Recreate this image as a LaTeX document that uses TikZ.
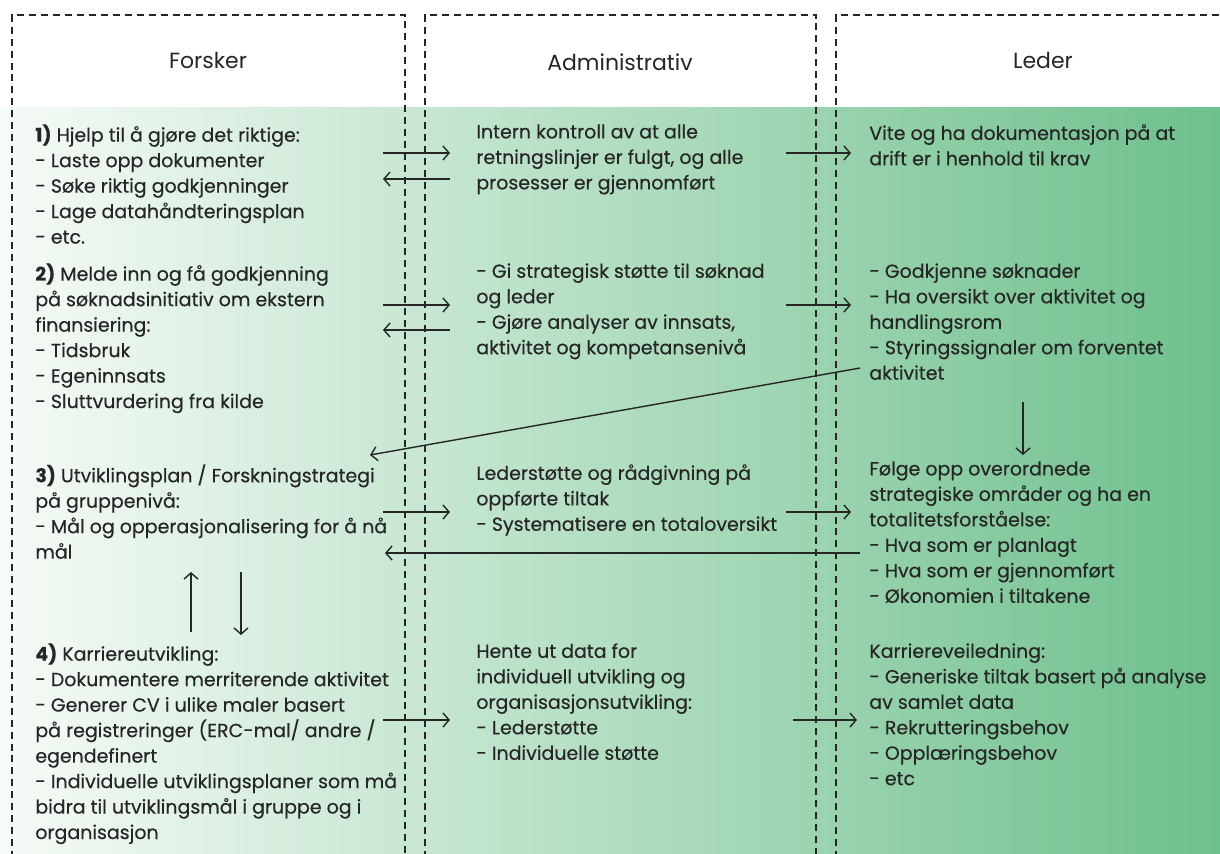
\documentclass[tikz,border=0pt]{standalone}
\usepackage{fontspec}
\setmainfont{Poppins}
\newfontfamily\bodyfont{Poppins}[FakeBold=0.3]
\usetikzlibrary{arrows.meta}
\definecolor{ink}{HTML}{262626}
\definecolor{paleg}{HTML}{F6FBF7}
\definecolor{deepg}{HTML}{6EC08C}
\begin{document}
\begin{tikzpicture}[x=0.02cm, y=-0.02cm,
  lane/.style={draw=ink, line width=0.9pt, dash pattern=on 4pt off 2.8pt},
  head/.style={font=\fontsize{12.5}{15}\selectfont, text=ink},
  txt/.style={anchor=north west, align=left, inner sep=0pt, text=ink,
    font=\bodyfont\fontsize{10.8}{14.5}\selectfont},
  arr/.style={draw=ink, line width=0.8pt, -{Straight Barb[length=3.5pt,width=8pt]}}]
\useasboundingbox (0,0) rectangle (1220,853);
\shade[left color=paleg, right color=deepg] (0,107) rectangle (1220,853);

% lanes
\draw[lane] (12,870) -- (12,15) -- (405,15) -- (405,870);
\draw[lane] (425,870) -- (425,15) -- (816,15) -- (816,870);
\draw[lane] (836,870) -- (836,15) -- (1240,15);

\node[head] (forsker) at (208,60) {Forsker};
\node[head] (admin) at (620,62) {Administrativ};
\node[head] (leder) at (1043,60) {Leder};

% Forsker
\node[txt] (f1) at (35,124) {\textbf{1)} Hjelp til å gjøre det riktige:\\- Laste opp dokumenter\\- Søke riktig godkjenninger\\- Lage datahåndteringsplan\\- etc.};
\node[txt] (f2) at (35,263) {\textbf{2)} Melde inn og få godkjenning\\på søknadsinitiativ om ekstern\\finansiering:\\- Tidsbruk\\- Egeninnsats\\- Sluttvurdering fra kilde};
\node[txt] (f3) at (35,464) {\textbf{3)} Utviklingsplan / Forskningstrategi\\på gruppenivå:\\- Mål og opperasjonalisering for å nå\\mål};
\node[txt] (f4) at (35,643) {\textbf{4)} Karriereutvikling:\\- Dokumentere merriterende aktivitet\\- Generer CV i ulike maler basert\\på registreringer (ERC-mal/ andre /\\egendefinert\\- Individuelle utviklingsplaner som må\\bidra til utviklingsmål i gruppe og i\\organisasjon};

% Administrativ
\node[txt] (a1) at (476,124) {Intern kontroll av at alle\\retningslinjer er fulgt, og alle\\prosesser er gjennomført};
\node[txt] (a2) at (476,263) {- Gi strategisk støtte til søknad\\og leder\\- Gjøre analyser av innsats,\\aktivitet og kompetansenivå};
\node[txt] (a3) at (476,464) {Lederstøtte og rådgivning på\\oppførte tiltak\\- Systematisere en totaloversikt};
\node[txt] (a4) at (476,643) {Hente ut data for\\individuell utvikling og\\organisasjonsutvikling:\\- Lederstøtte\\- Individuelle støtte};

% Leder
\node[txt] (l1) at (869,124) {Vite og ha dokumentasjon på at\\drift er i henhold til krav};
\node[txt] (l2) at (869,263) {- Godkjenne søknader\\- Ha oversikt over aktivitet og\\handlingsrom\\- Styringssignaler om forventet\\aktivitet};
\node[txt] (l3) at (869,461) {Følge opp overordnede\\strategiske områder og ha en\\totalitetsforståelse:\\- Hva som er planlagt\\- Hva som er gjennomført\\- Økonomien i tiltakene};
\node[txt] (l4) at (869,643) {Karriereveiledning:\\- Generiske tiltak basert på analyse\\av samlet data\\- Rekrutteringsbehov\\- Opplæringsbehov\\- etc};

% lanes of the arrows
\coordinate (fo) at (383,0);
\coordinate (ai) at (450,0);
\coordinate (ao) at (786,0);
\coordinate (li) at (851,0);
\coordinate (r1) at (0,153);
\coordinate (r1b) at (0,179);
\coordinate (r2) at (0,305);
\coordinate (r2b) at (0,330);
\coordinate (r3) at (0,512);
\coordinate (r3b) at (0,553);
\coordinate (r4) at (0,720);

\draw[arr] (r1 -| fo) -- (r1 -| ai);
\draw[arr] (r1b -| ai) -- (r1b -| fo);
\draw[arr] (r1 -| ao) -- (r1 -| li);
\draw[arr] (r2 -| fo) -- (r2 -| ai);
\draw[arr] (r2b -| ai) -- (r2b -| fo);
\draw[arr] (r2 -| ao) -- (r2 -| li);
\draw[arr] (r3 -| fo) -- (r3 -| ai);
\draw[arr] (r3 -| ao) -- (r3 -| li);
\draw[arr] (860,553) -- (r3b -| 385,0);
\draw[arr] (r4 -| fo) -- (r4 -| ai);
\draw[arr] (r4 -| 793,0) -- (r4 -| 857,0);

% signals from Leder
\coordinate (sig) at (860,368);
\coordinate (plan) at (370,455);
\draw[arr] (sig) -- (plan);
\draw[arr] (1023,402) -- (1023,455);

% between 3) and 4)
\draw[arr] (191,632) -- (191,572);
\draw[arr] (241,572) -- (241,635);
\end{tikzpicture}
\end{document}
